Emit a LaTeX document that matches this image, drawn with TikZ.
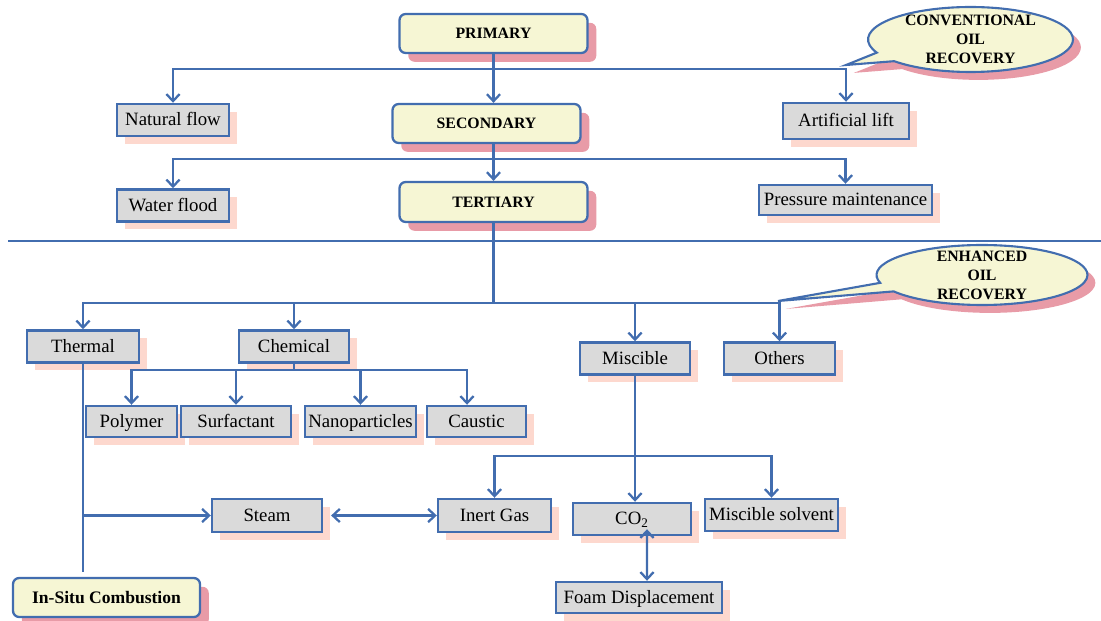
\documentclass[tikz,border=0pt]{standalone}
\usepackage{fontspec}
\setmainfont{Liberation Serif}
\usepackage{tikz}
\usetikzlibrary{arrows.meta,shapes.callouts,shadows}
\usepackage{xcolor}
\definecolor{linkblue}{RGB}{66,109,175}
\definecolor{boxgray}{RGB}{218,218,218}
\definecolor{lightshade}{RGB}{253,216,206}
\definecolor{stageyellow}{RGB}{246,246,212}
\definecolor{deepshade}{RGB}{232,155,167}

\tikzset{
    link/.style = {draw=linkblue, line width=1.3pt, -{Straight Barb[length=4pt,width=7.5pt]}},
    stagebox/.style = {draw=linkblue, line width=1.3pt, fill=stageyellow, rounded corners=3.5pt,
        font=\fontsize{9}{11}\selectfont\bfseries, inner sep=1pt,
        minimum width=3.76cm, minimum height=0.78cm, text height=7.2pt, text depth=1pt,
        drop shadow={shadow xshift=5pt, shadow yshift=-5pt, fill=deepshade, opacity=1}},
    methodbox/.style = {draw=linkblue, line width=1.4pt, fill=boxgray,
        font=\fontsize{10.7}{12.8}\selectfont, inner sep=1pt, minimum height=0.64cm,
        text height=8.4pt, text depth=1.6pt,
        drop shadow={shadow xshift=4.5pt, shadow yshift=-4.5pt, fill=lightshade, opacity=1}},
    callbub/.style = {ellipse callout, draw=linkblue, line width=1.2pt, fill=stageyellow,
        font=\fontsize{9}{10.8}\selectfont\bfseries, align=center,
        inner xsep=0pt, inner ysep=-4pt, callout pointer arc=18,
        drop shadow={shadow xshift=4.5pt, shadow yshift=-4.5pt, fill=deepshade, opacity=1}}
}

\begin{document}
\begin{tikzpicture}[x=0.02cm, y=-0.02cm]
            \useasboundingbox (0,0) rectangle (1101,621);

            \node[stagebox] (primary) at (493.5,33.5) {PRIMARY};
            \node[stagebox] (secondary) at (486.5,123.5) {SECONDARY};
            \node[stagebox, minimum height=0.8cm] (tertiary) at (493.5,202) {TERTIARY};
            \node[stagebox, minimum width=3.74cm, font=\fontsize{10}{12}\selectfont\bfseries, text height=8pt, text depth=1.5pt] (insitu) at (106.5,597.5) {In-Situ Combustion};

            \node[methodbox, minimum width=2.24cm] (natflow) at (173,120) {Natural flow};
            \node[methodbox, minimum width=2.24cm] (waterflood) at (173,205.5) {Water flood};
            \node[methodbox, minimum width=2.52cm, minimum height=0.72cm] (artlift) at (846,121) {Artificial lift};
            \node[methodbox, minimum width=3.46cm, minimum height=0.6cm] (pressmaint) at (845.5,200) {Pressure maintenance};

            \node[methodbox, minimum width=2.24cm] (thermal) at (83,346.5) {Thermal};
            \node[methodbox, minimum width=2.2cm] (chemical) at (294,346.5) {Chemical};
            \node[methodbox, minimum width=2.2cm] (miscible) at (635,358.5) {Miscible};
            \node[methodbox, minimum width=2.22cm] (others) at (779.5,358.5) {Others};

            \node[methodbox, minimum width=1.82cm, minimum height=0.62cm] (polymer) at (131.5,421.5) {Polymer};
            \node[methodbox, minimum width=2.2cm, minimum height=0.62cm] (surfactant) at (236,421.5) {Surfactant};
            \node[methodbox, minimum width=2.22cm, minimum height=0.62cm] (nano) at (360.5,421.5) {Nanoparticles};
            \node[methodbox, minimum width=1.98cm, minimum height=0.62cm] (caustic) at (476.5,421.5) {Caustic};

            \node[methodbox, minimum width=2.2cm, minimum height=0.66cm] (steam) at (267,515.5) {Steam};
            \node[methodbox, minimum width=2.26cm, minimum height=0.66cm] (inertgas) at (494.5,515.5) {Inert Gas};
            \node[methodbox, minimum width=2.36cm] (cotwo) at (632,519) {CO\textsubscript{2}};
            \node[methodbox, minimum width=2.66cm] (solvent) at (771.5,515) {Miscible solvent};
            \node[methodbox, minimum width=3.32cm, minimum height=0.62cm] (foam) at (639,597.5) {Foam Displacement};

            \node[callbub, minimum width=4.1cm, minimum height=1.3cm,
                callout absolute pointer={(846,65)}] (convcall) at (970.5,39.5) {CONVENTIONAL\\OIL\\RECOVERY};
            \node[callbub, minimum width=4.22cm, minimum height=1.2cm,
                callout absolute pointer={(778,301)}] (eorcall) at (982,275) {ENHANCED\\OIL\\RECOVERY};

            \coordinate (convbus) at (493.5,69);
            \coordinate (secbus) at (493.5,159);
            \coordinate (eorbus) at (493.5,303);
            \coordinate (chembus) at (294,370);
            \coordinate (misbus) at (635,456);

            \draw[link] (primary.south) -- (primary.south |- secondary.north);
            \draw[link] (convbus) -| (natflow.north);
            \draw[link] (convbus) -| (artlift.north);
            \draw[link] (tertiary.north |- secondary.south) -- (tertiary.north);
            \draw[link] (secbus) -| (waterflood.north);
            \draw[link] (secbus) -| (pressmaint.north);

            \draw[draw=linkblue, line width=1.3pt] (8,241) -- (1101,241);

            \draw[link, -] (tertiary.south) -- (eorbus);
            \draw[link] (eorbus) -| (thermal.north);
            \draw[link] (eorbus) -| (chemical.north);
            \draw[link] (eorbus) -| (miscible.north);
            \draw[link] (eorbus) -| (others.north);

            \draw[link, -] (chemical.south) -- (chembus);
            \draw[link] (chembus) -| (polymer.north);
            \draw[link] (chembus) -| (surfactant.north);
            \draw[link] (chembus) -| (nano.north);
            \draw[link] (chembus) -| ([xshift=-0.19cm]caustic.north);

            \draw[link, -, shorten >=3pt] (thermal.south) -- (thermal.south |- insitu.north);
            \draw[link] (thermal.south |- steam.west) -- (steam.west);
            \draw[link, {Straight Barb[length=4pt,width=7.5pt]}-{Straight Barb[length=4pt,width=7.5pt]}, shorten <=4.5pt] (steam.east) -- (inertgas.west);

            \draw[link] (miscible.south) -- (miscible.south |- cotwo.north);
            \draw[link] (misbus) -| (inertgas.north);
            \draw[link] (misbus) -| (solvent.north);
            \draw[link, {Straight Barb[length=4pt,width=7.5pt]}-{Straight Barb[length=4pt,width=7.5pt]}] ([shift={(15,-7)}]cotwo.south) -- ([xshift=0.16cm]foam.north);
        \end{tikzpicture}
\end{document}
